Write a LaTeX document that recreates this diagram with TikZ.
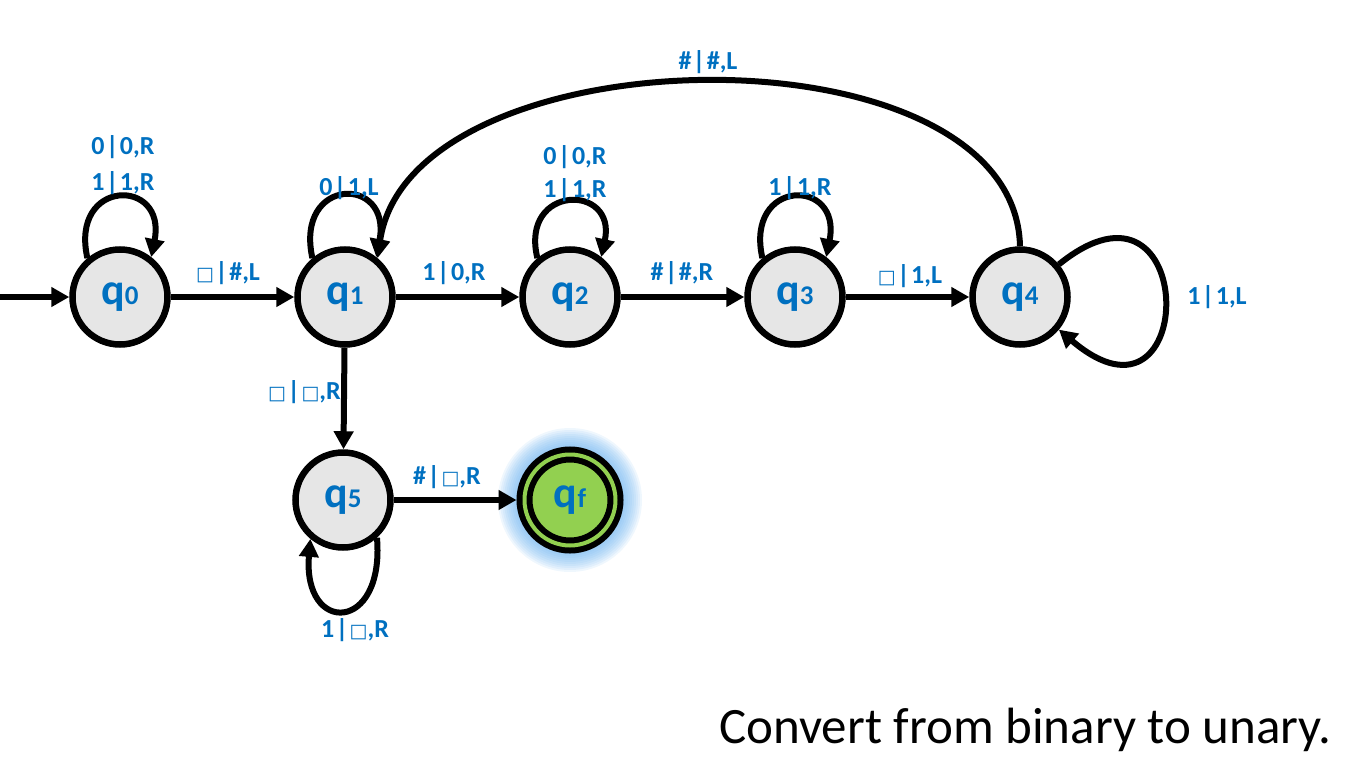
\documentclass[tikz,border=0pt]{standalone}
\usepackage{fontspec}
\setmainfont{Carlito}
\newfontfamily\symfont{DejaVu Sans}
\usetikzlibrary{arrows.meta}
\definecolor{lblue}{HTML}{0070C0}
\definecolor{sgray}{HTML}{E6E6E6}
\definecolor{fgreen}{HTML}{92D050}
\definecolor{glowc}{HTML}{6FB4F0}
\newcommand{\bx}{{\symfont\fontsize{19}{19}\selectfont □}}
\newcommand{\qlab}[1]{{\fontsize{44}{44}\selectfont q}{\fontsize{27}{27}\selectfont #1}}
\newcommand{\sep}{\kern1.5pt|\kern1.5pt}
\begin{document}
\begin{tikzpicture}[x=1pt,y=-1pt,
  state/.style={circle, draw=black, line width=6.5pt, fill=sgray, minimum size=95pt, inner sep=0pt, text=lblue, font=\bfseries},
  lbl/.style={text=lblue, font=\bfseries\fontsize{26}{26}\selectfont, inner sep=0pt},
  edge/.style={line width=6pt, -{Triangle[length=18pt,width=19pt]}}
]
\useasboundingbox (0,0) rectangle (1360,768);
% glow
\coordinate (qfc) at (570,500);
\foreach \r in {54,56,...,72} \fill[glowc, opacity=0.11] (qfc) circle (\r);
% states
\node[state] (q0) at (120,297) {\qlab{0}};
\node[state] (q1) at (345,297) {\qlab{1}};
\node[state] (q2) at (570,297) {\qlab{2}};
\node[state] (q3) at (795,297) {\qlab{3}};
\node[state] (q4) at (1020,297) {\qlab{4}};
\node[state] (q5) at (343,500) {\qlab{5}};
\node[circle, draw=black, line width=6pt, double=fgreen, double distance=4pt, fill=fgreen, minimum size=91pt, inner sep=0pt, outer sep=8pt, text=lblue, font=\bfseries] (qf) at (qfc) {\qlab{f}};
% edges
\coordinate (start) at (0,297);
\draw[edge] (start) -- (q0);
\draw[edge] (q0) -- (q1);
\draw[edge] (q1) -- (q2);
\draw[edge] (q2) -- (q3);
\draw[edge] (q3) -- (q4);
\draw[edge] (q1) -- (q5);
\draw[edge] (q5) -- (qf);
% loops
\draw[edge] (q0.130) .. controls +(-18,-80) and +(16,-80) .. (q0.52);
\draw[edge] (q1.130) .. controls +(-18,-82) and +(16,-82) .. (q1.52);
\draw[edge] (q2.130) .. controls +(-18,-74) and +(16,-74) .. (q2.52);
\draw[edge] (q3.130) .. controls +(-18,-80) and +(16,-80) .. (q3.52);
\draw[edge] (q5.-48) .. controls +(8,96) and +(-8,96) .. (q5.-130);
\draw[edge] (q4.40) .. controls +(141,-114) and +(141,120) .. (q4.-40);
\draw[edge] (q4.north) .. controls +(-5,-226) and +(32,-228) .. (q1.50);
% labels
\node[lbl] (l0a) at (123,147) {0\sep0,R};
\node[lbl] (l0b) at (123,183) {1\sep1,R};
\node[lbl] (l01) at (228,273) {\bx\sep\#,L};
\node[lbl] (l1) at (349,188) {0\sep1,L};
\node[lbl] (l12) at (454,273) {1\sep0,R};
\node[lbl] (l2a) at (575,157) {0\sep0,R};
\node[lbl] (l2b) at (575,190) {1\sep1,R};
\node[lbl] (l23) at (682,273) {\#\sep\#,R};
\node[lbl] (l3) at (800,188) {1\sep1,R};
\node[lbl] (l34) at (910,276) {\bx\sep1,L};
\node[lbl] (l4) at (1217,297) {1\sep1,L};
\node[lbl] (l41) at (708,62) {\#\sep\#,L};
\node[lbl, anchor=east] (l15) at (341,392) {\bx\sep\bx,R};
\node[lbl] (l5f) at (447,477) {\#\sep\bx,R};
\node[lbl] (l5) at (355,630) {1\sep\bx,R};
\node[anchor=base east, font=\fontsize{51}{51}\selectfont] (title) at (1335,743) {Convert from binary to unary.};
\end{tikzpicture}
\end{document}
